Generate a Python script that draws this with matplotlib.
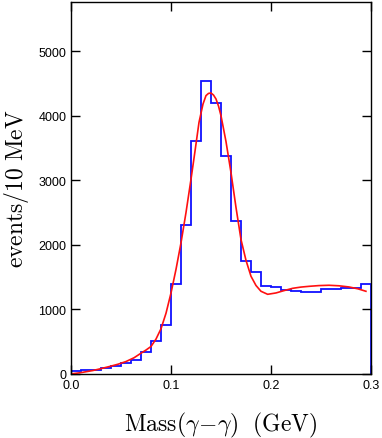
import numpy as np
import matplotlib
matplotlib.use("Agg")
import matplotlib.pyplot as plt

# Histogram: 10 MeV bins from 0.0 to 0.3 GeV
bin_edges = [round(0.01 * i, 2) for i in range(31)]
counts = [41, 62, 62, 88, 124, 176, 218, 332, 503, 762,
          1394, 2311, 3611, 4544, 4202, 3368, 2363, 1746, 1575, 1363,
          1347, 1295, 1285, 1275, 1275, 1316, 1321, 1337, 1326, 1394]

# Fit curve points
fit_x = [0.0, 0.01, 0.0217, 0.03, 0.0383, 0.047, 0.055, 0.063, 0.07, 0.075, 0.08, 0.085,
         0.09, 0.095, 0.1, 0.105, 0.11, 0.115, 0.12, 0.124, 0.128, 0.132, 0.135,
         0.1375, 0.14, 0.1425, 0.145, 0.1475, 0.15, 0.155, 0.16, 0.165, 0.17, 0.175,
         0.18, 0.185, 0.19, 0.1967, 0.205, 0.213, 0.2217, 0.23, 0.2383, 0.248,
         0.258, 0.268, 0.278, 0.287, 0.295]
fit_y = [0, 20, 52, 82, 114, 150, 192, 250, 321, 370, 425, 540,
         700, 940, 1254, 1620, 2031, 2500, 3016, 3450, 3896, 4180, 4311,
         4345, 4352, 4320, 4259, 4150, 4000, 3600, 3119, 2580, 2083, 1760,
         1513, 1370, 1280, 1233, 1254, 1290, 1326, 1345, 1357, 1368,
         1373, 1365, 1347, 1318, 1280]

x_ticks = [0.0, 0.1, 0.2, 0.3]
y_ticks = [0, 1000, 2000, 3000, 4000, 5000]

plt.rcParams['mathtext.fontset'] = 'cm'
fig = plt.figure(figsize=(3.82, 4.39), dpi=100)
ax = fig.add_axes([0.186, 0.146, 0.785, 0.847])

ax.stairs(counts, bin_edges, baseline=0, color='#1010ff', linewidth=1.3)
ax.plot(fit_x, fit_y, color='#ff1010', linewidth=1.2)

ax.set_xlim(0.0, 0.3)
ax.set_ylim(0, 5760)
ax.set_xticks(x_ticks)
ax.set_xticklabels([f"{v:.1f}" for v in x_ticks])
ax.set_yticks(y_ticks)
ax.set_yticklabels([str(v) for v in y_ticks])
ax.tick_params(direction='in', length=6.5, width=1, top=True, right=True,
               labelsize=9)
ax.tick_params(axis='x', pad=3.6)
ax.tick_params(axis='y', pad=3.4)
for lab in ax.get_xticklabels() + ax.get_yticklabels():
    lab.set_family('Liberation Sans')
for s in ax.spines.values():
    s.set_linewidth(1)

ax.set_xlabel(r'$\mathrm{Mass}(\gamma\!-\!\gamma)\ \ (\mathrm{GeV})$', fontsize=17, labelpad=14)
ax.set_ylabel(r'$\mathrm{events/10\ MeV}$', fontsize=17, labelpad=5.5)

fig.savefig('out.png', dpi=100)
